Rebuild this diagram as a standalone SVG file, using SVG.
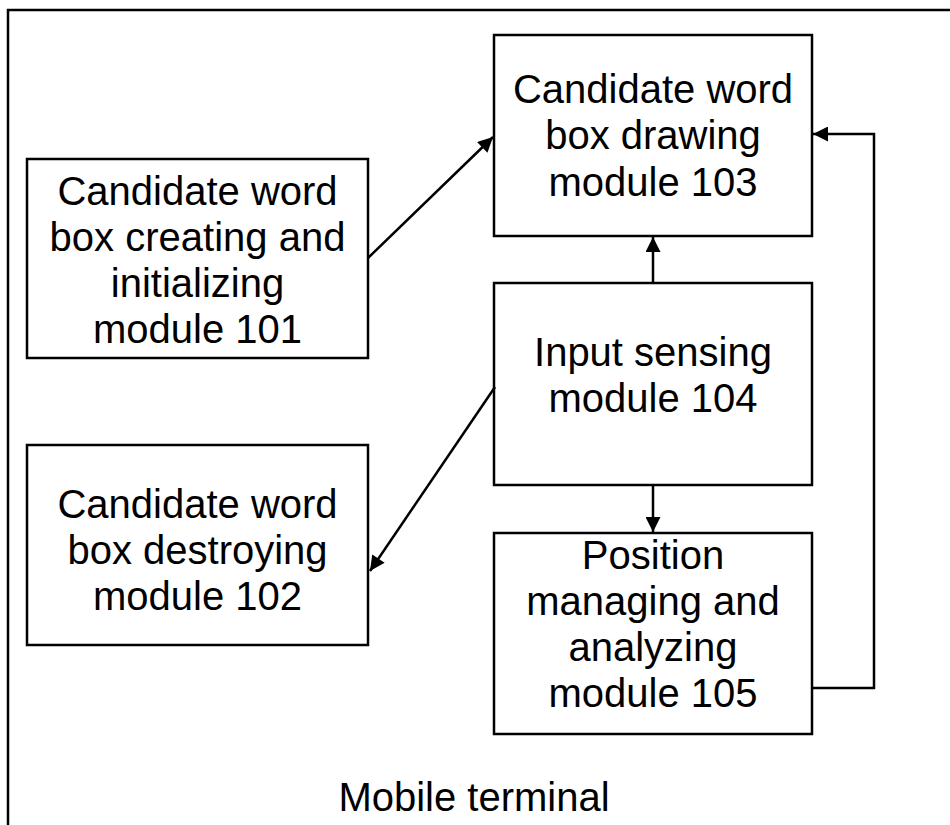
<svg xmlns="http://www.w3.org/2000/svg" width="950" height="825" viewBox="0 0 950 825">
<style>
.box{fill:#fff;stroke:#000;stroke-width:2.5}
.t{font-family:"Liberation Sans",Arial,sans-serif;font-size:40px;fill:#000;text-anchor:middle}
.c{fill:none;stroke:#000;stroke-width:2.5}
</style>
<defs>
<marker id="ah" viewBox="0 0 10 10" refX="10" refY="5" markerWidth="7" markerHeight="6" markerUnits="strokeWidth" orient="auto">
<path d="M0,0 L10,5 L0,10 z" fill="#000"/>
</marker>
</defs>
<rect width="950" height="825" fill="#fff"/>
<g id="frame">
<path class="c" d="M8,850 V10 H960"/>
<text class="t" x="474" y="811">Mobile terminal</text>
</g>
<g id="n101">
<rect class="box" x="27" y="159" width="341" height="199"/>
<text class="t" x="197.5" y="205">Candidate word</text>
<text class="t" x="197.5" y="251">box creating and</text>
<text class="t" x="197.5" y="297">initializing</text>
<text class="t" x="197.5" y="343">module 101</text>
</g>
<g id="n102">
<rect class="box" x="27" y="445" width="341" height="200"/>
<text class="t" x="197.5" y="518">Candidate word</text>
<text class="t" x="197.5" y="564">box destroying</text>
<text class="t" x="197.5" y="610">module 102</text>
</g>
<g id="n103">
<rect class="box" x="494" y="35" width="318" height="201"/>
<text class="t" x="653" y="103">Candidate word</text>
<text class="t" x="653" y="149">box drawing</text>
<text class="t" x="653" y="196">module 103</text>
</g>
<g id="n104">
<rect class="box" x="494" y="283" width="318" height="202"/>
<text class="t" x="653" y="366">Input sensing</text>
<text class="t" x="653" y="412">module 104</text>
</g>
<g id="n105">
<rect class="box" x="494" y="533" width="318" height="201"/>
<text class="t" x="653" y="569">Position</text>
<text class="t" x="653" y="615">managing and</text>
<text class="t" x="653" y="661">analyzing</text>
<text class="t" x="653" y="707">module 105</text>
</g>
<g id="connectors">
<line class="c" x1="368" y1="258" x2="493" y2="137" marker-end="url(#ah)"/>
<line class="c" x1="653" y1="283" x2="653" y2="237" marker-end="url(#ah)"/>
<line class="c" x1="495" y1="387" x2="370" y2="571" marker-end="url(#ah)"/>
<line class="c" x1="653" y1="485" x2="653" y2="532" marker-end="url(#ah)"/>
<polyline class="c" points="812,688 874,688 874,134 813,134" marker-end="url(#ah)"/>
</g>
</svg>
